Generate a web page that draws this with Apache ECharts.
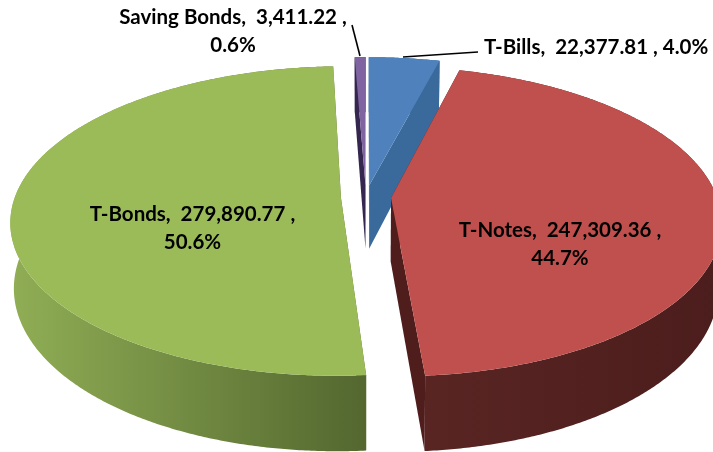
<!DOCTYPE html>
<html>
<head>
<meta charset="utf-8">
<style>html,body{margin:0;padding:0;background:#fff;overflow:hidden}#c{width:713px;height:452px}</style>
<script src="https://cdn.jsdelivr.net/npm/echarts@6/dist/echarts.min.js"></script>
</head>
<body>
<div id="c"></div>
<script>
const categories = ['T-Bills', 'T-Notes', 'T-Bonds', 'Saving Bonds'];
const seriesValues = [22377.81, 247309.36, 279890.77, 3411.22];
const percentLabels = ['4.0%', '44.7%', '50.6%', '0.6%'];

const VIEW = { cx: 366, cy: 197, rx: 326, ry: 151, persp: 0.151, depth: 64, explode: 0.077, shrink: 0.99 };
const STYLE = [
  { top: '#4f81bd', radial: '#3a6a9c', outer: ['#3a6a9c', '#3a6a9c'] },
  { top: '#c0504d', radial: '#4f1d1c', outer: ['#592523', '#4b1d1c'] },
  { top: '#9bbb59', radial: '#55692f', outer: ['#90ae55', '#53672f'] },
  { top: '#8064a2', radial: '#35264f', outer: ['#35264f', '#35264f'] }
];
const LABELS = [
  { x: 484, y: 47, align: 'left', sep: ' ' },
  { x: 560, y: 244, align: 'center', sep: '\n' },
  { x: 192.5, y: 228, align: 'center', sep: '\n' },
  { x: 233, y: 31.5, align: 'center', sep: '\n' }
];
const LEADERS = { 0: [403, 57, 478, 52], 3: [352, 25, 360, 56] };
const DRAW_ORDER = [3, 0, 2, 1];

const total = seriesValues.reduce((a, b) => a + b, 0);
let acc = 0;
const spans = seriesValues.map(v => { const s = acc / total; acc += v; return [s * 2 * Math.PI, acc / total * 2 * Math.PI]; });

function project(u, v, low) {
  const w = 1 / (1 - VIEW.persp * v);
  let x = VIEW.rx * u * w;
  if (low) x *= VIEW.shrink;
  const y = VIEW.cy + VIEW.ry * v * w + (low ? VIEW.depth * w : 0);
  return [VIEW.cx + x, y];
}
function sliceGeom(i) {
  const [a, b] = spans[i];
  const m = (a + b) / 2;
  const ex = VIEW.explode * Math.sin(m), ey = -VIEW.explode * Math.cos(m);
  const rim = [];
  const n = Math.max(2, Math.ceil((b - a) / 0.008));
  for (let k = 0; k <= n; k++) {
    const t = a + (b - a) * k / n;
    rim.push([ex + Math.sin(t), ey - Math.cos(t)]);
  }
  return { ex, ey, rim };
}
function poly(points, fill) {
  return { type: 'polygon', shape: { points }, style: { fill, stroke: null } };
}
function renderSlice(params, api) {
  const i = api.value(0);
  const g = sliceGeom(i), st = STYLE[i];
  const topRim = g.rim.map(p => project(p[0], p[1], false));
  const lowRim = g.rim.map(p => project(p[0], p[1], true));
  const apexT = project(g.ex, g.ey, false), apexL = project(g.ex, g.ey, true);
  const grad = new echarts.graphic.LinearGradient(0, 0, 1, 0, [
    { offset: 0, color: st.outer[0] }, { offset: 1, color: st.outer[1] }
  ]);
  const last = topRim.length - 1;
  const children = [
    poly([apexT, topRim[0], lowRim[0], apexL], st.radial),
    poly([apexT, topRim[last], lowRim[last], apexL], st.radial),
    poly(topRim.concat(lowRim.slice().reverse()), grad),
    poly([apexT].concat(topRim), st.top)
  ];
  return { type: 'group', children };
}
function labelText(i) {
  const val = seriesValues[i].toLocaleString('en-US', { minimumFractionDigits: 2, maximumFractionDigits: 2 });
  return categories[i] + ',  ' + val + ' ,' + LABELS[i].sep + percentLabels[i];
}
function renderText(params, api) {
  const i = api.value(0), L = LABELS[i];
  const children = [{
    type: 'text', x: L.x, y: L.y,
    style: { text: labelText(i), fill: '#000', align: L.align, verticalAlign: 'middle',
      font: 'bold 20.5px Lato', lineHeight: 28 }
  }];
  if (LEADERS[i]) {
    const s = LEADERS[i];
    children.unshift({ type: 'line', shape: { x1: s[0], y1: s[1], x2: s[2], y2: s[3] }, style: { stroke: '#000', lineWidth: 1.6 } });
  }
  return { type: 'group', children };
}
const chart = echarts.init(document.getElementById('c'), null, { renderer: 'canvas' });
chart.setOption({
  animation: false,
  backgroundColor: '#fff',
  series: [
    { type: 'custom', coordinateSystem: 'none', renderItem: renderSlice, silent: true, clip: false,
      data: DRAW_ORDER.map(i => [i, seriesValues[i]]) },
    { type: 'custom', coordinateSystem: 'none', renderItem: renderText, silent: true, z: 5,
      data: categories.map((c, i) => [i]) }
  ]
});
</script>
</body>
</html>
